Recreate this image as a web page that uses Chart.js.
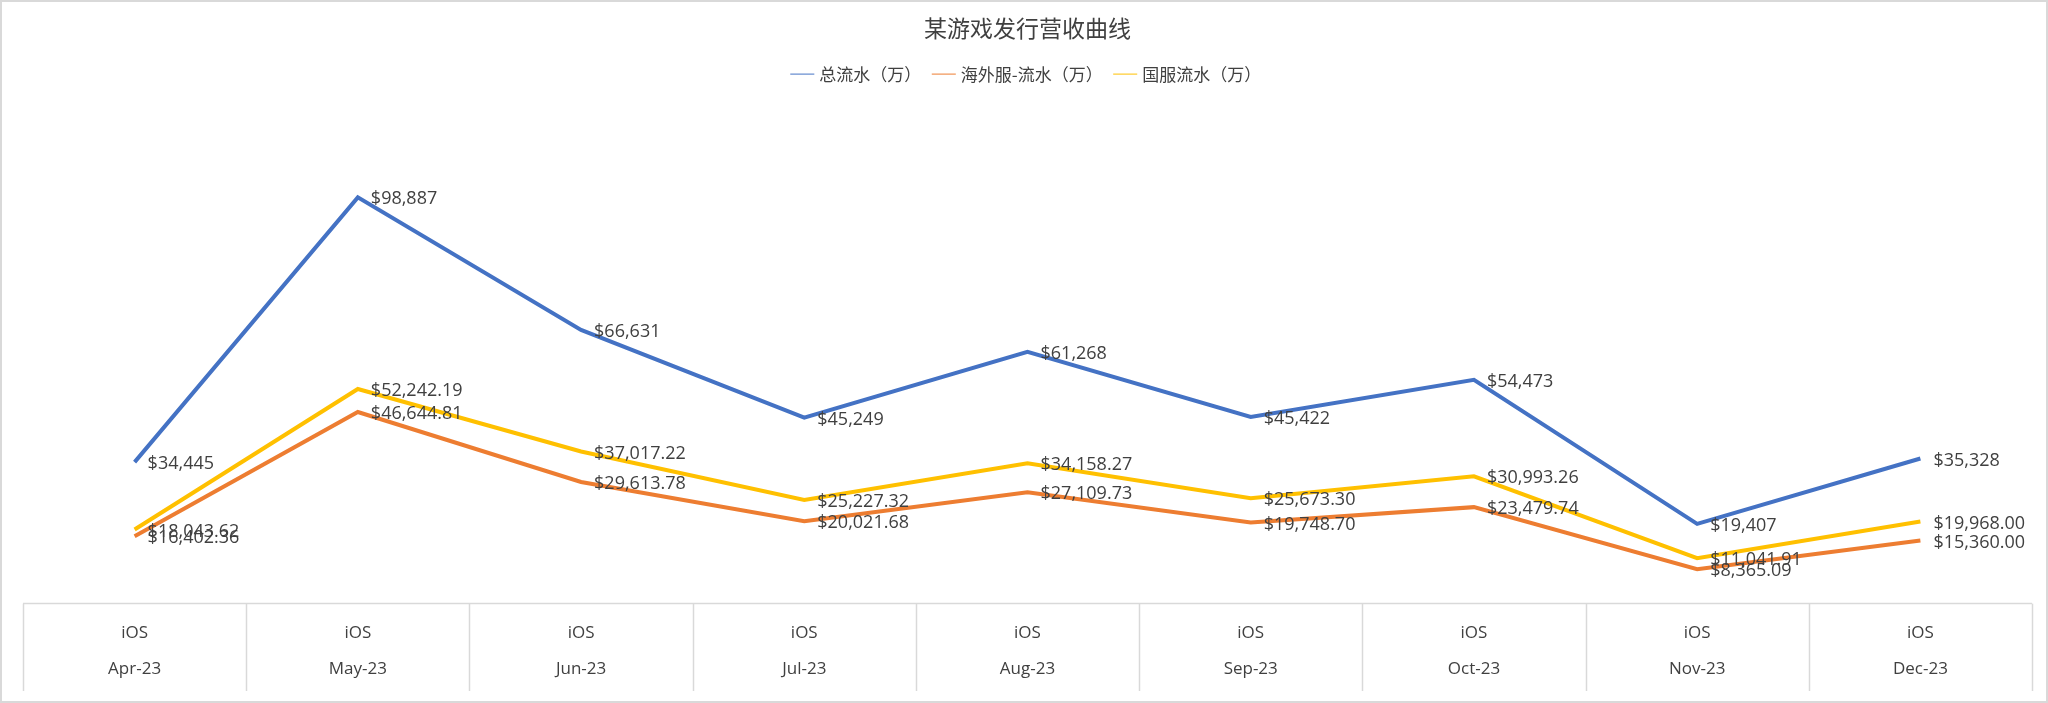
<!DOCTYPE html>
<html><head><meta charset="utf-8">
<script src="https://cdn.jsdelivr.net/npm/chart.js@4"></script>
<style>html,body{margin:0;padding:0;background:#fff}#w{width:2048px;height:703px;position:relative}</style>
</head><body><div id="w"><canvas id="c"></canvas></div>
<script>
const categories = ["Apr-23","May-23","Jun-23","Jul-23","Aug-23","Sep-23","Oct-23","Nov-23","Dec-23"];
const platform = "iOS";
const totalRevenue = [34445, 98887, 66631, 45249, 61268, 45422, 54473, 19407, 35328];
const overseasRevenue = [16402.36, 46644.81, 29613.78, 20021.68, 27109.73, 19748.70, 23479.74, 8365.09, 15360.00];
const domesticRevenue = [18043.62, 52242.19, 37017.22, 25227.32, 34158.27, 25673.30, 30993.26, 11041.91, 19968.00];
const seriesNames = ["总流水（万）","海外服-流水（万）","国服流水（万）"];

const FONT = "'Noto Sans CJK SC','Open Sans',sans-serif";
const LABF = "'Open Sans','Noto Sans',sans-serif";
const fmt0 = v => '$' + v.toLocaleString('en-US',{maximumFractionDigits:0});
const fmt2 = v => '$' + v.toLocaleString('en-US',{minimumFractionDigits:2,maximumFractionDigits:2});

const deco = {
  id:'deco',
  afterDraw(chart){
    const ctx = chart.ctx, a = chart.chartArea, xs = chart.scales.x;
    ctx.save();
    ctx.strokeStyle = '#d9d9d9'; ctx.lineWidth = 2;
    ctx.strokeRect(1,1,chart.width-2,chart.height-2);
    ctx.lineWidth = 1.5;
    const bottom = chart.height - 12;
    ctx.beginPath(); ctx.moveTo(a.left,a.bottom); ctx.lineTo(a.right,a.bottom); ctx.stroke();
    const n = categories.length, w = (a.right-a.left)/n;
    for(let i=0;i<=n;i++){
      const x = Math.round(a.left + i*w)+0.5;
      ctx.beginPath(); ctx.moveTo(x,a.bottom); ctx.lineTo(x,bottom); ctx.stroke();
    }
    // data labels
    ctx.font = "18px " + LABF; ctx.fillStyle = '#404040';
    ctx.textAlign='left'; ctx.textBaseline='middle';
    chart.data.datasets.forEach((ds,di)=>{
      const meta = chart.getDatasetMeta(di);
      meta.data.forEach((p,i)=>{
        const v = ds.data[i];
        ctx.fillText(di===0?fmt0(v):fmt2(v), p.x+13, p.y+2);
      });
    });
    ctx.restore();
  }
};

new Chart(document.getElementById('c'),{
  type:'line',
  data:{labels:categories.map(c=>[platform,c]),
    datasets:[
      {label:seriesNames[0],data:totalRevenue,borderColor:'#4472C4',backgroundColor:'#4472C4'},
      {label:seriesNames[1],data:overseasRevenue,borderColor:'#ED7D31',backgroundColor:'#ED7D31'},
      {label:seriesNames[2],data:domesticRevenue,borderColor:'#FFC000',backgroundColor:'#FFC000'}
    ]},
  options:{
    responsive:true,maintainAspectRatio:false,animation:false,
    elements:{line:{borderWidth:4,tension:0},point:{radius:0}},
    layout:{padding:{left:23,right:16,top:12,bottom:12}},
    plugins:{
      title:{display:true,text:'某游戏发行营收曲线',color:'#404040',font:{family:FONT,size:23,weight:'normal'},padding:{top:2,bottom:10}},
      legend:{labels:{usePointStyle:true,pointStyle:'line',boxWidth:40,color:'#404040',font:{family:FONT,size:17},padding:14},
        },
      tooltip:{enabled:false}
    },
    scales:{
      y:{display:false,min:0,max:120000},
      x:{offset:true,grid:{display:false},border:{display:false},
        ticks:{color:'#404040',font:{family:LABF,size:17,lineHeight:2.1},padding:4,maxRotation:0}}
    }
  },
  plugins:[deco,{id:'legpad',beforeInit(ch){const f=ch.legend&&ch.legend.fit; if(ch.legend){ch.legend.fit=function(){f.call(this);this.height+=18;};}}}]
});
</script></body></html>
